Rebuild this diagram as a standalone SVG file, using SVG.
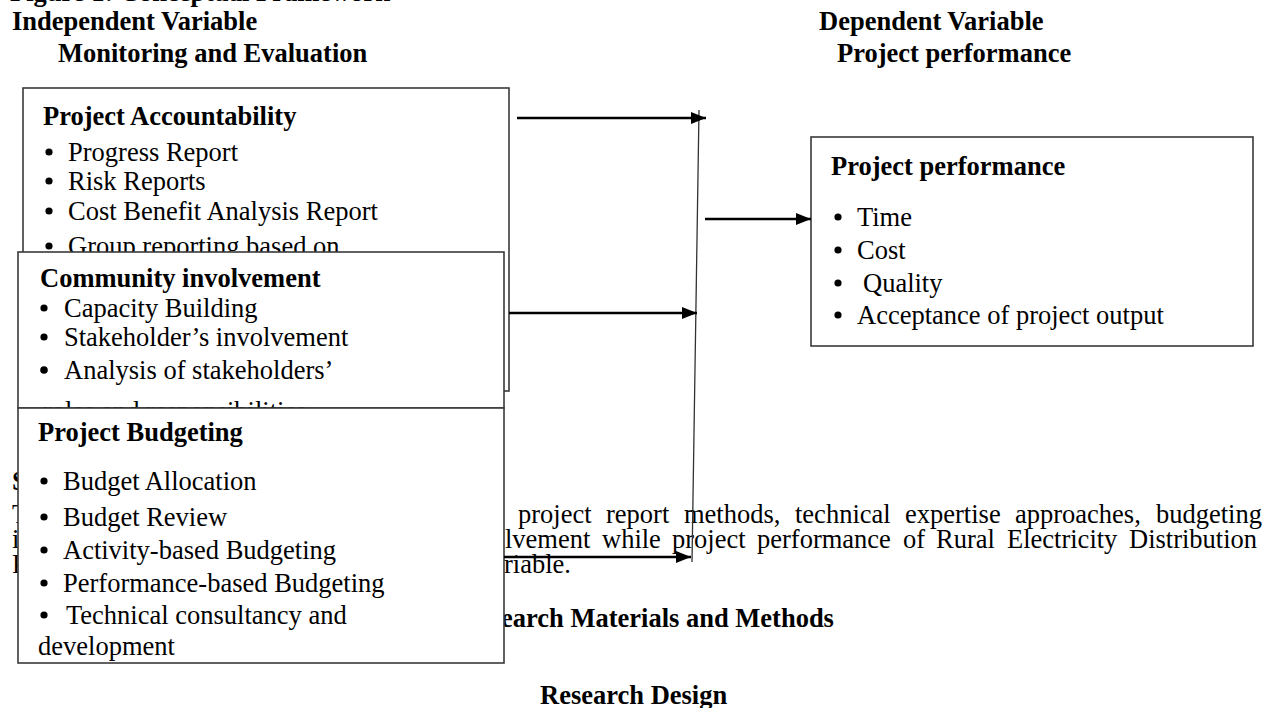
<svg xmlns="http://www.w3.org/2000/svg" width="1270" height="708" viewBox="0 0 1270 708">
<style>
  text { font-family: "Liberation Serif", "Times New Roman", serif; font-size: 26.5px; fill: #000; }
  .b { font-weight: bold; }
  .box { fill: #fff; stroke: #3a3a3a; stroke-width: 1.6; }
  .dot { fill: #000; }
  .arrow { stroke: #000; stroke-width: 2.6; fill: none; marker-end: url(#head); }
  .spine { stroke: #333; stroke-width: 1.3; fill: none; }
</style>
<defs>
  <marker id="head" markerUnits="userSpaceOnUse" markerWidth="16" markerHeight="12" refX="15" refY="6" orient="auto">
    <path d="M0,0 L15,6 L0,12 Z" fill="#000"/>
  </marker>
  <clipPath id="clipAcc"><rect x="0" y="0" width="520" height="252"/></clipPath>
  <clipPath id="clipCom"><rect x="0" y="0" width="520" height="408"/></clipPath>
  <clipPath id="clipTop"><rect x="0" y="0" width="1270" height="708"/></clipPath>
</defs>
<rect width="1270" height="708" fill="#fff"/>

<g id="page-text">
  <text class="b" x="10" y="1" clip-path="url(#clipTop)">Figure 1: Conceptual Framework</text>
  <text class="b" x="12" y="30">Independent Variable</text>
  <text class="b" x="58" y="62">Monitoring and Evaluation</text>
  <text class="b" x="819" y="30">Dependent Variable</text>
  <text class="b" x="837" y="62">Project performance</text>
  <text class="b" x="12" y="490">S</text>
  <text x="12" y="523">T</text>
  <text x="12" y="548">i</text>
  <text x="12" y="573">P</text>
  <text y="523"><tspan x="518">project</tspan><tspan x="606">report</tspan><tspan x="684">methods,</tspan><tspan x="795">technical</tspan><tspan x="905">expertise</tspan><tspan x="1015">approaches,</tspan><tspan x="1156">budgeting</tspan></text>
  <text y="548"><tspan x="505">lvement</tspan><tspan x="602">while</tspan><tspan x="672">project</tspan><tspan x="757">performance</tspan><tspan x="903">of</tspan><tspan x="936">Rural</tspan><tspan x="1007">Electricity</tspan><tspan x="1129">Distribution</tspan></text>
  <text x="504" y="573">riable.</text>
  <text class="b" x="501" y="627">earch Materials and Methods</text>
  <text class="b" x="540" y="704">Research Design</text>
</g>

<g id="node-accountability">
  <rect class="box" x="23" y="88" width="486" height="303"/>
  <text class="b" x="43" y="125">Project Accountability</text>
  <circle class="dot" cx="49" cy="152" r="3.6"/><text x="68" y="161">Progress Report</text>
  <circle class="dot" cx="49" cy="181" r="3.6"/><text x="68" y="190">Risk Reports</text>
  <circle class="dot" cx="49" cy="211" r="3.6"/><text x="68" y="220">Cost Benefit Analysis Report</text>
  <g clip-path="url(#clipAcc)">
    <circle class="dot" cx="49" cy="246" r="3.6"/><text x="68" y="255">Group reporting based on</text>
  </g>
</g>

<g id="node-community">
  <rect class="box" x="18" y="252" width="486" height="156"/>
  <text class="b" x="40" y="287">Community involvement</text>
  <circle class="dot" cx="44" cy="308" r="3.6"/><text x="64" y="317">Capacity Building</text>
  <circle class="dot" cx="44" cy="337" r="3.6"/><text x="64" y="346">Stakeholder’s involvement</text>
  <circle class="dot" cx="44" cy="370" r="3.8"/><text x="64" y="379">Analysis of stakeholders’</text>
  <text x="43" y="420" clip-path="url(#clipCom)">roles and responsibilities</text>
</g>

<g id="node-budgeting">
  <rect class="box" x="18" y="408" width="486" height="255"/>
  <text class="b" x="38" y="441">Project Budgeting</text>
  <circle class="dot" cx="44" cy="481" r="3.6"/><text x="63" y="490">Budget Allocation</text>
  <circle class="dot" cx="44" cy="517" r="3.6"/><text x="63" y="526">Budget Review</text>
  <circle class="dot" cx="44" cy="550" r="3.6"/><text x="63" y="559">Activity-based Budgeting</text>
  <circle class="dot" cx="44" cy="583" r="3.6"/><text x="63" y="592">Performance-based Budgeting</text>
  <circle class="dot" cx="44" cy="615" r="3.6"/><text x="66" y="624">Technical consultancy and</text>
  <text x="38" y="655">development</text>
</g>

<g id="node-performance">
  <rect class="box" x="811" y="137" width="442" height="209"/>
  <text class="b" x="831" y="175">Project performance</text>
  <circle class="dot" cx="838" cy="217" r="3.6"/><text x="857" y="226">Time</text>
  <circle class="dot" cx="838" cy="250" r="3.6"/><text x="857" y="259">Cost</text>
  <circle class="dot" cx="838" cy="283" r="3.6"/><text x="863" y="292">Quality</text>
  <circle class="dot" cx="838" cy="315" r="3.6"/><text x="857" y="324">Acceptance of project output</text>
</g>

<g id="connectors">
  <line class="spine" x1="699" y1="110" x2="692" y2="562"/>
  <line class="arrow" x1="517" y1="118" x2="706" y2="118"/>
  <line class="arrow" x1="509" y1="313" x2="697" y2="313"/>
  <line class="arrow" x1="504" y1="557" x2="691" y2="557"/>
  <line class="arrow" x1="705" y1="219" x2="811" y2="219"/>
</g>
</svg>
